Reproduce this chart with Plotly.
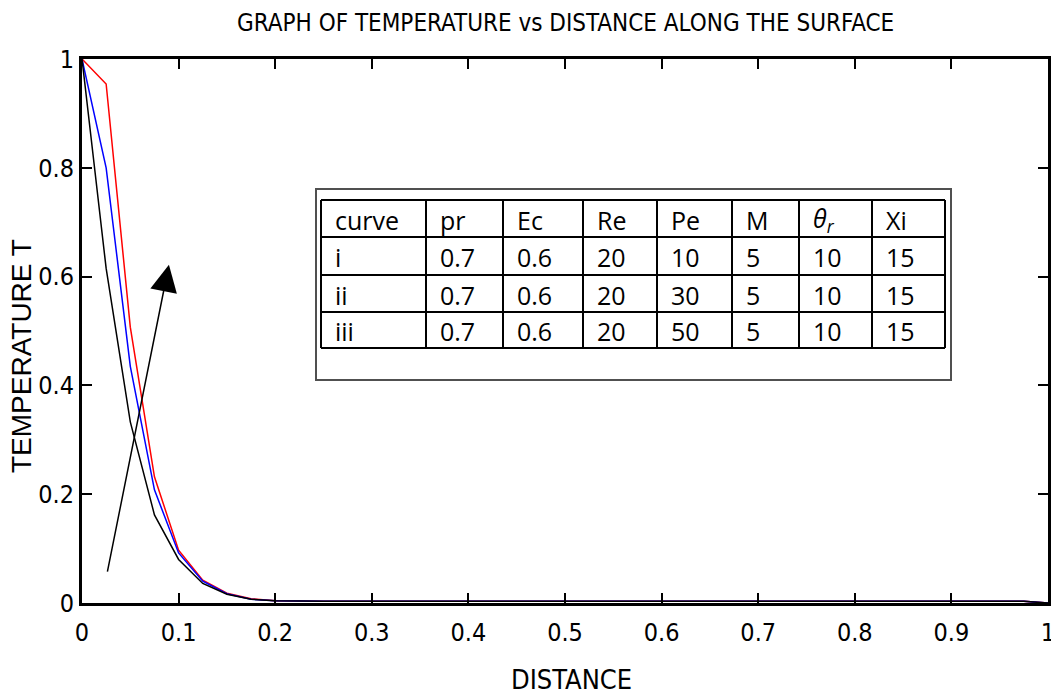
import plotly.graph_objects as go

# ---------------- data ----------------
distance = [0.0, 0.025, 0.05, 0.075, 0.1, 0.125, 0.15, 0.175, 0.2, 0.225,
            0.25, 0.275, 0.3, 0.325, 0.35, 0.375, 0.4, 0.425, 0.45, 0.475,
            0.5, 0.525, 0.55, 0.575, 0.6, 0.625, 0.65, 0.675, 0.7, 0.725,
            0.75, 0.775, 0.8, 0.825, 0.85, 0.875, 0.9, 0.925, 0.95, 0.975, 1.0]

temp_red = [1.0, 0.954, 0.507, 0.232, 0.097, 0.042, 0.018, 0.008, 0.004, 0.003,
            0.003, 0.003, 0.003, 0.003, 0.003, 0.003, 0.003, 0.003, 0.003, 0.003,
            0.003, 0.003, 0.003, 0.003, 0.003, 0.003, 0.003, 0.003, 0.003, 0.003,
            0.003, 0.003, 0.003, 0.003, 0.003, 0.003, 0.003, 0.003, 0.003, 0.003, 0.0]
temp_blue = [1.0, 0.800, 0.435, 0.208, 0.092, 0.040, 0.017, 0.007, 0.004, 0.003,
             0.003, 0.003, 0.003, 0.003, 0.003, 0.003, 0.003, 0.003, 0.003, 0.003,
             0.003, 0.003, 0.003, 0.003, 0.003, 0.003, 0.003, 0.003, 0.003, 0.003,
             0.003, 0.003, 0.003, 0.003, 0.003, 0.003, 0.003, 0.003, 0.003, 0.003, 0.0]
temp_black = [1.0, 0.615, 0.333, 0.162, 0.080, 0.036, 0.016, 0.007, 0.004, 0.003,
              0.003, 0.003, 0.003, 0.003, 0.003, 0.003, 0.003, 0.003, 0.003, 0.003,
              0.003, 0.003, 0.003, 0.003, 0.003, 0.003, 0.003, 0.003, 0.003, 0.003,
              0.003, 0.003, 0.003, 0.003, 0.003, 0.003, 0.003, 0.003, 0.003, 0.003, 0.0]

x_ticks = [0, 0.1, 0.2, 0.3, 0.4, 0.5, 0.6, 0.7, 0.8, 0.9, 1]
x_tick_labels = ["0", "0.1", "0.2", "0.3", "0.4", "0.5", "0.6", "0.7", "0.8", "0.9", "1"]
y_ticks = [0, 0.2, 0.4, 0.6, 0.8, 1]
y_tick_labels = ["0", "0.2", "0.4", "0.6", "0.8", "1"]

# arrow (tail -> head) in data units
arrow_tail = (0.026, 0.055)
arrow_head = (0.090, 0.622)

table_header = ["curve", "pr", "Ec", "Re", "Pe", "M", "<i>θ<sub>r</sub></i>", "Xi"]
table_rows = [
    ["i", "0.7", "0.6", "20", "10", "5", "10", "15"],
    ["ii", "0.7", "0.6", "20", "30", "5", "10", "15"],
    ["iii", "0.7", "0.6", "20", "50", "5", "10", "15"],
]

title_text = "GRAPH OF TEMPERATURE vs DISTANCE ALONG THE SURFACE"
x_title = "DISTANCE"
y_title = "TEMPERATURE T"

# ---------------- layout helpers ----------------
W, H = 1051, 695
L, R, T, B = 82, 1048, 59, 603
def px(X):
    return (X - L) / (R - L)
def py(Y):
    return (B - Y) / (B - T)

NARROW = "Liberation Sans Narrow, DejaVu Sans Condensed, Arial Narrow, sans-serif"
TABLEFONT = "Open Sans, Noto Sans, sans-serif"

fig = go.Figure()
for yv, col, nm in [(temp_red, "#ff0000", "i"), (temp_blue, "#0000ff", "ii"),
                    (temp_black, "#000000", "iii")]:
    fig.add_trace(go.Scatter(x=distance, y=yv, mode="lines", name=nm,
                             line=dict(color=col, width=1.5), showlegend=False))

shapes = []
annotations = []

# table outer box
shapes.append(dict(type="rect", xref="paper", yref="paper",
                   x0=px(316), x1=px(951), y0=py(380), y1=py(189),
                   line=dict(color="#505050", width=2), fillcolor="white", layer="above"))
col_edges = [321, 426, 503, 583, 657, 732, 799, 872, 945]
row_edges = [200, 237, 275, 312, 348]
for cx in col_edges:
    shapes.append(dict(type="line", xref="paper", yref="paper",
                       x0=px(cx), x1=px(cx), y0=py(row_edges[0]), y1=py(row_edges[-1]),
                       line=dict(color="black", width=2), layer="above"))
for ry in row_edges:
    shapes.append(dict(type="line", xref="paper", yref="paper",
                       x0=px(col_edges[0]), x1=px(col_edges[-1]), y0=py(ry), y1=py(ry),
                       line=dict(color="black", width=2), layer="above"))

all_rows = [table_header] + table_rows
for ri, row in enumerate(all_rows):
    yc = (row_edges[ri] + row_edges[ri + 1]) / 2
    for ci, txt in enumerate(row):
        annotations.append(dict(xref="paper", yref="paper", x=px(col_edges[ci] + 12),
                                y=py(yc + 1), xanchor="left", yanchor="middle",
                                text=txt, showarrow=False,
                                font=dict(family=TABLEFONT, size=25, color="black")))

# arrow
annotations.append(dict(xref="x", yref="y", axref="x", ayref="y",
                        x=arrow_head[0], y=arrow_head[1],
                        ax=arrow_tail[0], ay=arrow_tail[1],
                        text="", showarrow=True, arrowhead=2, arrowsize=3.6,
                        arrowwidth=1.5, arrowcolor="black", standoff=0, startstandoff=0))

# titles
annotations.append(dict(xref="paper", yref="paper", x=0.5, y=py(23), xanchor="center",
                        yanchor="middle", text=title_text, showarrow=False,
                        font=dict(family=NARROW, size=24, color="black")))
annotations.append(dict(xref="paper", yref="paper", x=px(571), y=py(679), xanchor="center",
                        yanchor="middle", text=x_title, showarrow=False,
                        font=dict(family=NARROW, size=27, color="black")))
annotations.append(dict(xref="paper", yref="paper", x=px(21), y=py(356), xanchor="center",
                        yanchor="middle", text=y_title, showarrow=False, textangle=-90,
                        font=dict(family="Liberation Sans, Arial, sans-serif", size=28,
                                  color="black")))

axis_common = dict(showline=True, linecolor="black", linewidth=3, mirror="ticks",
                   ticks="inside", ticklen=10, tickwidth=1.5, tickcolor="black",
                   showgrid=False, zeroline=False, ticklabeloverflow="allow",
                   automargin=False,
                   tickfont=dict(family=NARROW, size=25, color="black"))

fig.update_layout(
    width=W, height=H,
    margin=dict(l=L, r=W - R, t=T, b=H - B, pad=0, autoexpand=False),
    paper_bgcolor="white", plot_bgcolor="white",
    xaxis=dict(range=[0, 1], tickvals=x_ticks, ticktext=x_tick_labels,
               ticklabelstandoff=5, **axis_common),
    yaxis=dict(range=[0, 1], tickvals=y_ticks, ticktext=y_tick_labels, **axis_common),
    shapes=shapes, annotations=annotations, showlegend=False,
)

fig.write_html("out.html")
